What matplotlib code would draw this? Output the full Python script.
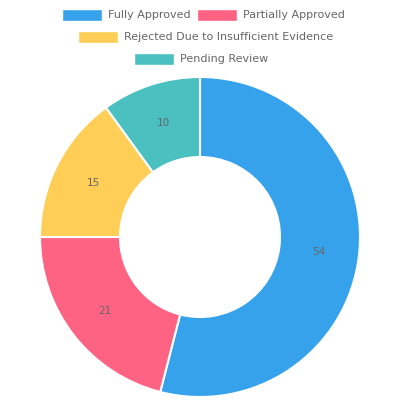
import matplotlib

matplotlib.use("Agg")
import matplotlib.pyplot as plt
from matplotlib.patches import Rectangle

labels = ["Fully Approved", "Partially Approved", "Rejected Due to Insufficient Evidence", "Pending Review"]
values = [54, 21, 15, 10]
colors = ["#36A2EB", "#FF6384", "#FFCE56", "#4BC0C0"]

fig = plt.figure(figsize=(4, 4), dpi=100)
ax = fig.add_axes([0.1, 0.0075, 0.8, 0.8])
ax.pie(values, colors=colors, startangle=90, counterclock=False,
       wedgeprops=dict(width=0.5, edgecolor="white", linewidth=1.5),
       labels=[str(v) for v in values], labeldistance=0.75,
       textprops=dict(color="#666666", fontsize=7.5, ha="center", va="center"))
ax.set_xlim(-1, 1)
ax.set_ylim(-1, 1)
ax.set_aspect("equal")

# legend rows laid out like Chart.js (pixel coords: box x, row y)
rows = [[(62, 15, 0), (197, 15, 1)], [(78, 37, 2)], [(134, 59, 3)]]
for row in rows:
    for bx, by, i in row:
        fig.patches.append(Rectangle((bx / 400, 1 - (by + 6) / 400), 40 / 400, 12 / 400,
                                     transform=fig.transFigure, facecolor=colors[i],
                                     edgecolor="white", linewidth=1))
        fig.text((bx + 46) / 400, 1 - by / 400, labels[i], fontsize=8,
                 color="#666666", va="center", ha="left")

fig.savefig("out.png", dpi=100)
